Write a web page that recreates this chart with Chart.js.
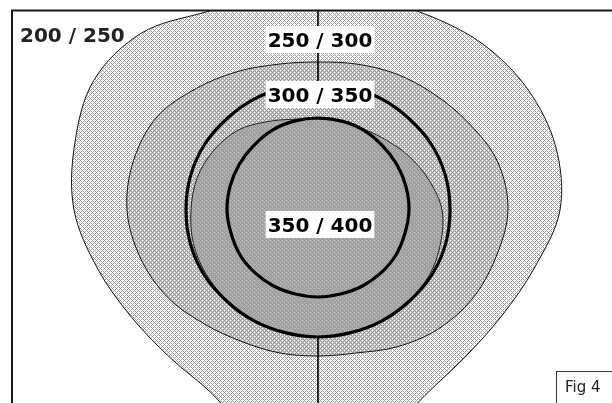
<!DOCTYPE html>
<html>
<head>
<meta charset="utf-8">
<script src="https://cdn.jsdelivr.net/npm/chart.js@4.4.1/dist/chart.umd.min.js"></script>
<style>
  html, body { margin: 0; padding: 0; overflow: hidden; background: #fff; }
  #fig { position: absolute; left: 0; top: 0; }
</style>
</head>
<body>
<canvas id="fig" width="636" height="420"></canvas>
<script>
// angles of the readings, 0° at the top, clockwise
const angles = ['0°', '15°', '30°', '45°', '60°', '75°', '90°', '105°', '120°', '135°', '150°', '165°',
                '180°', '195°', '210°', '225°', '240°', '255°', '270°', '285°', '300°', '315°', '330°', '345°'];
const zoneLabels = ['200 / 250', '250 / 300', '300 / 350', '350 / 400'];

// radius of each contour at every angle
const zone200 = [215, 218, 224, 234, 242, 246, 242, 224, 212, 208, 214, 240, 280, 240, 212, 209, 215, 228, 244, 252, 259, 250, 228, 218];
const zone250 = [148, 151, 157, 164, 174, 186, 190, 184, 178, 169, 158, 148, 146, 148, 152, 161, 174, 184, 191, 191, 186, 172, 160, 151];
const zone300 = [91, 91, 93, 98, 106, 115, 124, 127, 129, 128, 128, 127, 127, 127, 128, 128, 129, 129, 127, 125, 120, 113, 102, 94];
const ring300 = [127, 127, 128, 129, 131, 132, 132, 132, 131, 129, 128, 127, 127, 127, 128, 129, 131, 132, 132, 132, 131, 129, 128, 127];
const ring350 = [92, 92, 92, 91, 91, 91, 91, 90, 90, 89, 88, 87, 87, 87, 88, 89, 90, 90, 91, 91, 91, 91, 92, 92];

// little crosshatch tile used as fill
function hatch(line, a, b) {
    const c = document.createElement('canvas');
    c.width = 4;
    c.height = 4;
    const g = c.getContext('2d');
    for (let y = 0; y < 4; y++) {
        for (let x = 0; x < 4; x++) {
            const onLine = (x + y) % 4 === 0 || (x - y + 4) % 4 === 0;
            g.fillStyle = onLine ? line : ((x + y) % 2 ? a : b);
            g.fillRect(x, y, 1, 1);
        }
    }
    return g.createPattern(c, 'repeat');
}

const figurePlugin = {
    id: 'figure',
    beforeDatasetsDraw(chart) {
        const ctx = chart.ctx;
        ctx.save();
        ctx.beginPath();
        ctx.rect(12, 10, 600, 393);
        ctx.clip();
    },
    afterDatasetsDraw(chart) {
        const ctx = chart.ctx;
        ctx.restore();
        const r = chart.scales.r;
        const cx = r.xCenter;
        const top = r.getPointPositionForValue(0, ring300[0]).y;
        const bottom = r.getPointPositionForValue(12, ring300[12]).y;

        // axe vertical
        ctx.save();
        ctx.strokeStyle = '#000';
        ctx.lineWidth = 1.6;
        ctx.beginPath();
        ctx.moveTo(cx, 10);
        ctx.lineTo(cx, top);
        ctx.moveTo(cx, bottom);
        ctx.lineTo(cx, 403);
        ctx.stroke();

        // cadre
        ctx.strokeStyle = '#1a1a1a';
        ctx.lineWidth = 2;
        ctx.beginPath();
        ctx.moveTo(12, 403);
        ctx.lineTo(12, 10.5);
        ctx.lineTo(612, 10.5);
        ctx.stroke();

        // étiquettes
        ctx.font = 'bold 20px "DejaVu Sans"';
        ctx.textBaseline = 'alphabetic';
        ctx.textAlign = 'left';
        ctx.fillStyle = '#222';
        ctx.fillText(zoneLabels[0], 20, 42);

        ctx.textAlign = 'center';
        const tag = (text, x, base) => {
            const w = ctx.measureText(text).width;
            ctx.fillStyle = '#fff';
            ctx.fillRect(x - w / 2 - 2, base - 21, w + 4, 27);
            ctx.fillStyle = '#000';
            ctx.fillText(text, x, base);
        };
        tag(zoneLabels[1], cx + 2, 47);
        tag(zoneLabels[2], cx + 2, 102);
        tag(zoneLabels[3], cx + 2, 232);

        // Fig 4
        ctx.fillStyle = '#fff';
        ctx.fillRect(556.5, 371.5, 80, 40);
        ctx.strokeStyle = '#333';
        ctx.lineWidth = 1;
        ctx.strokeRect(556.5, 371.5, 80, 40);
        ctx.font = '15px "DejaVu Sans"';
        ctx.textAlign = 'left';
        ctx.fillStyle = '#222';
        ctx.fillText('Fig 4', 565, 392);
        ctx.restore();
    }
};

new Chart(document.getElementById('fig'), {
    type: 'radar',
    data: {
        labels: angles,
        datasets: [
            {
                label: zoneLabels[3],
                data: ring350,
                borderColor: '#000',
                borderWidth: 3.2,
                backgroundColor: 'transparent',
                fill: false,
            },
            {
                label: zoneLabels[2],
                data: ring300,
                borderColor: '#000',
                borderWidth: 3.2,
                backgroundColor: 'transparent',
                fill: false,
            },
            {
                label: zoneLabels[2] + ' (zone)',
                data: zone300,
                borderColor: '#222',
                borderWidth: 1,
                backgroundColor: hatch('#979797', '#adadad', '#b8b8b8'),
                fill: true,
            },
            {
                label: zoneLabels[1],
                data: zone250,
                borderColor: '#111',
                borderWidth: 1,
                backgroundColor: hatch('#939393', '#d0d0d0', '#ffffff'),
                fill: true,
            },
            {
                label: zoneLabels[0],
                data: zone200,
                borderColor: '#111',
                borderWidth: 1,
                backgroundColor: hatch('#a0a0a0', '#ffffff', '#ffffff'),
                fill: true,
            },
        ],
    },
    options: {
        responsive: false,
        animation: false,
        devicePixelRatio: 1,
        layout: { padding: 0 },
        elements: {
            point: { radius: 0, hitRadius: 0 },
            line: { tension: 0.34 },
        },
        scales: {
            r: { display: false, min: 0, max: 210 },
        },
        plugins: {
            legend: { display: false },
            tooltip: { enabled: false },
        },
    },
    plugins: [figurePlugin],
});
</script>
</body>
</html>
